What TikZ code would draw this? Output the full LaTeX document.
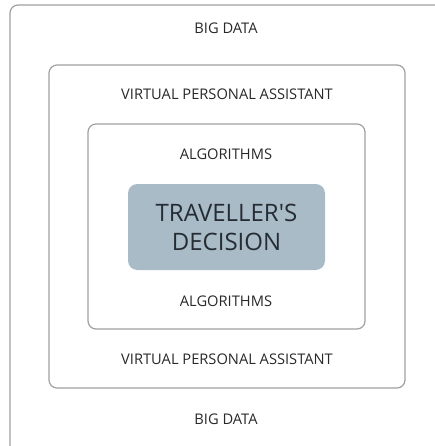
\documentclass[tikz,border=0pt]{standalone}
\usepackage{fontspec}
\setmainfont{Open Sans}
\definecolor{boxgray}{RGB}{160,160,160}
\definecolor{txtgray}{RGB}{40,40,40}
\definecolor{decisiontxt}{RGB}{38,44,52}
\definecolor{decisionfill}{RGB}{168,187,199}
\tikzset{
	layerbox/.style={draw=boxgray, line width=0.9pt, rounded corners=6pt},
	layertext/.style={text=txtgray, font=\fontsize{11}{13}\selectfont, inner sep=0.75pt},
}
\begin{document}
\begin{tikzpicture}[x=0.75pt,y=0.75pt,yscale=-1,xscale=1]
	\useasboundingbox (0,0) rectangle (435,446);
	% nested layers
	\draw [layerbox] (10,5) rectangle (450,462) ;
	\draw [layerbox] (49,65) rectangle (405,388) ;
	\draw [layerbox] (88,124) rectangle (365,329) ;
	\draw [rounded corners=7pt, fill=decisionfill, draw=none] (128,184) rectangle (325,270) ;
	% labels
	\draw (226,28) node [layertext] (bigdataTop) {BIG DATA};
	\draw (227,94) node [layertext] (vpaTop) {VIRTUAL PERSONAL ASSISTANT};
	\draw (226,154.5) node [layertext] (algoTop) {ALGORITHMS};
	\draw (226.5,227.5) node [text=decisiontxt, align=center, inner sep=0.75pt, font=\fontsize{18}{21.8}\selectfont] (decision) {TRAVELLER\textquotesingle S\\DECISION};
	\draw (226,301) node [layertext] (algoBottom) {ALGORITHMS};
	\draw (227,359) node [layertext] (vpaBottom) {VIRTUAL PERSONAL ASSISTANT};
	\draw (226,419) node [layertext] (bigdataBottom) {BIG DATA};
\end{tikzpicture}
\end{document}
